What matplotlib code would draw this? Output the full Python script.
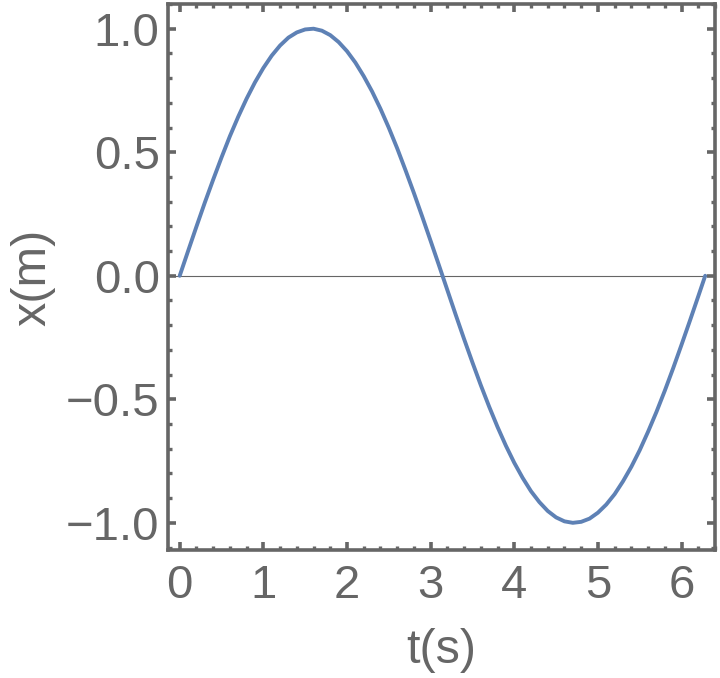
import matplotlib
matplotlib.use("Agg")
import matplotlib.pyplot as plt
from matplotlib.ticker import MultipleLocator, FuncFormatter

# Values
t_values = [0.0, 0.1, 0.2, 0.3, 0.4, 0.5, 0.6, 0.7, 0.8, 0.9,
            1.0, 1.1, 1.2, 1.3, 1.4, 1.5, 1.6, 1.7, 1.8, 1.9,
            2.0, 2.1, 2.2, 2.3, 2.4, 2.5, 2.6, 2.7, 2.8, 2.9,
            3.0, 3.1, 3.2, 3.3, 3.4, 3.5, 3.6, 3.7, 3.8, 3.9,
            4.0, 4.1, 4.2, 4.3, 4.4, 4.5, 4.6, 4.7, 4.8, 4.9,
            5.0, 5.1, 5.2, 5.3, 5.4, 5.5, 5.6, 5.7, 5.8, 5.9,
            6.0, 6.1, 6.2, 6.283]
x_values = [0.000, 0.100, 0.199, 0.296, 0.389, 0.479, 0.565, 0.644, 0.717, 0.783,
            0.841, 0.891, 0.932, 0.964, 0.985, 0.997, 1.000, 0.992, 0.974, 0.946,
            0.909, 0.863, 0.808, 0.746, 0.676, 0.599, 0.516, 0.427, 0.335, 0.239,
            0.141, 0.042, -0.058, -0.158, -0.256, -0.351, -0.443, -0.530, -0.612, -0.688,
            -0.757, -0.818, -0.872, -0.916, -0.952, -0.978, -0.994, -1.000, -0.996, -0.983,
            -0.959, -0.926, -0.884, -0.832, -0.773, -0.706, -0.631, -0.551, -0.465, -0.374,
            -0.279, -0.182, -0.083, 0.000]
x_ticks = [0, 1, 2, 3, 4, 5, 6]
y_ticks = [-1.0, -0.5, 0.0, 0.5, 1.0]
x_label = "t(s)"
y_label = "x(m)"

gray = "#666666"
line_color = "#5E81B5"

plt.rcParams["font.family"] = ["Liberation Sans", "DejaVu Sans"]

fig = plt.figure(figsize=(7.2, 6.78), dpi=100)
ax = fig.add_axes([168 / 720, 1 - 550 / 678, (715 - 168) / 720, (550 - 4) / 678])

ax.axhline(0, color=gray, lw=0.8, zorder=1)
ax.plot(t_values, x_values, color=line_color, lw=2.8, zorder=3, solid_capstyle="round")

ax.set_xlim(-0.14, 6.40)
ax.set_ylim(-1.11, 1.10)

ax.set_xticks(x_ticks)
ax.set_yticks(y_ticks)
ax.xaxis.set_minor_locator(MultipleLocator(0.2))
ax.yaxis.set_minor_locator(MultipleLocator(0.1))


def fmt_y(v, pos):
    s = "%.1f" % abs(v)
    return ("\u2212" + s) if v < -1e-9 else s


ax.yaxis.set_major_formatter(FuncFormatter(fmt_y))

for s in ax.spines.values():
    s.set_color(gray)
    s.set_linewidth(2.6)

ax.tick_params(which="both", direction="in", top=True, right=True, color=gray,
               labelcolor=gray, labelsize=34)
ax.tick_params(which="major", length=5.5, width=2.6)
ax.tick_params(which="minor", length=3, width=2.4)
ax.tick_params(axis="x", which="major", pad=10)
ax.tick_params(axis="y", which="major", pad=6)

ax.set_xlabel(x_label, fontsize=35, color=gray)
ax.set_ylabel(y_label, fontsize=35, color=gray)
ax.xaxis.set_label_coords(0.5, -0.143)
ax.yaxis.set_label_coords(-0.205, 0.5)

fig.savefig("out.png", dpi=100)
